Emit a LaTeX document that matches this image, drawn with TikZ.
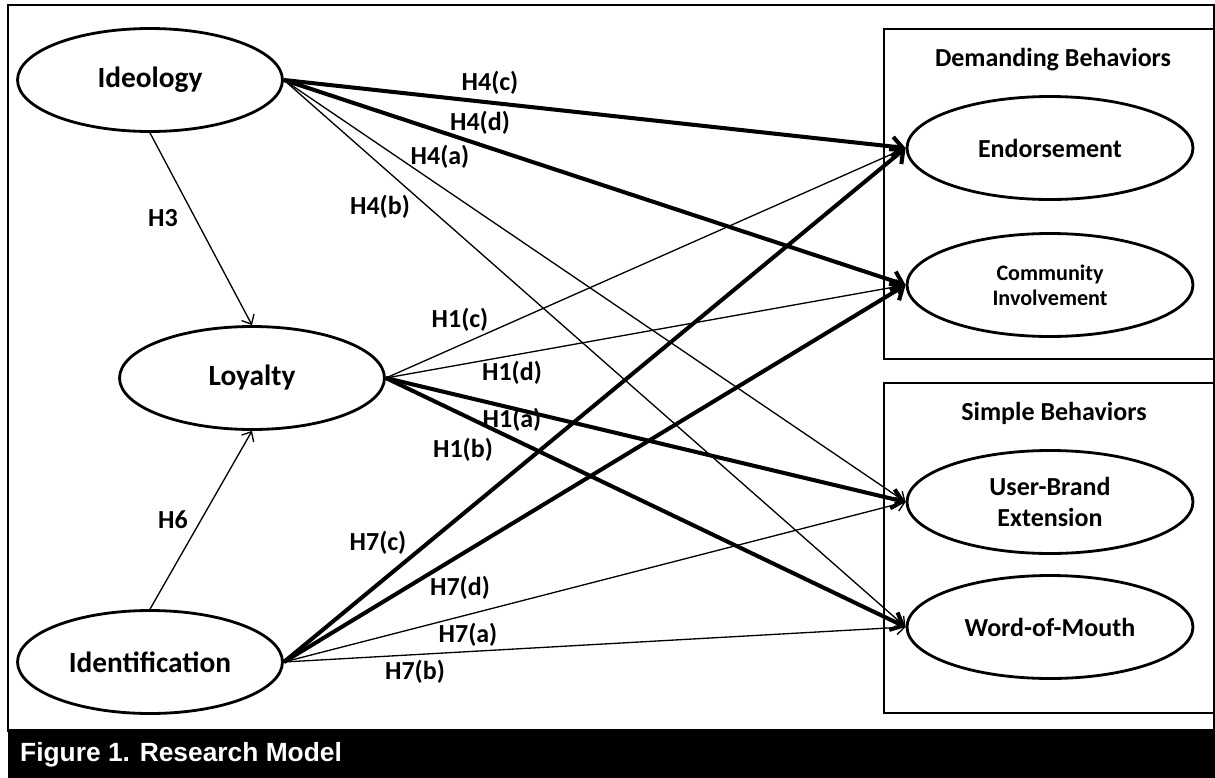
\documentclass[tikz,border=0pt]{standalone}
\usepackage{fontspec}
\setmainfont{Carlito}
\newfontfamily\captionfont{Liberation Sans}
\usetikzlibrary{arrows.meta,shapes.geometric}
\newlength{\leftnodewidth}
\newlength{\rightnodewidth}
\newlength{\constructheight}
\newlength{\thinpath}
\newlength{\thickpath}
\setlength{\leftnodewidth}{5.3cm}
\setlength{\rightnodewidth}{5.72cm}
\setlength{\constructheight}{2.06cm}
\setlength{\thinpath}{0.75pt}
\setlength{\thickpath}{2.3pt}
\tikzstyle{construct} = [draw, ellipse, line width=1.6pt, minimum width=\leftnodewidth, minimum height=\constructheight, inner sep=0, align=center, font=\bfseries\fontsize{16.7}{20}\selectfont]
\tikzstyle{outcome} = [construct, minimum width=\rightnodewidth, font=\bfseries\fontsize{14.8}{17.6}\selectfont]
\tikzstyle{groupbox} = [draw, line width=1.6pt]
\tikzstyle{hyp} = [inner sep=0, font=\bfseries\fontsize{14.8}{17}\selectfont]
\tikzstyle{weak} = [draw, line width=\thinpath, -{Straight Barb[length=4.5pt,width=8pt]}]
\tikzstyle{strong} = [draw, line width=\thickpath, -{Straight Barb[length=6pt,width=11pt]}]

\begin{document}
\begin{tikzpicture}[x=0.02cm, y=-0.02cm]
		
		\useasboundingbox (0,0) rectangle (1215,778);
		
		% frame and caption bar
		\draw[line width=1.7pt] (8,5) rectangle (1214,730);
		\fill[black] (8,730) rectangle (1215,778);
		\node[anchor=west, text=white, font=\captionfont\bfseries\fontsize{15}{18}\selectfont] (caption) at (14,755) {Figure 1. Research Model};
		
		% behaviour groups
		\draw[groupbox] (884,29) rectangle (1214,359);
		\draw[groupbox] (884,383) rectangle (1214,713);
		\node[hyp] (demanding) at (1053,60) {Demanding Behaviors};
		\node[hyp] (simple) at (1054,413) {Simple Behaviors};
		
		% constructs
		\node[construct] (ideo) at (150,80) {Ideology};
		\node[construct] (loy) at (252,378) {Loyalty};
		\node[construct] (ident) at (150,662) {Identification};
		\node[outcome] (endo) at (1050,148) {Endorsement};
		\node[outcome, font=\bfseries\fontsize{12.6}{14.2}\selectfont] (comm) at (1050,285) {Community\\Involvement};
		\node[outcome] (ube) at (1050,502) {User-Brand\\Extension};
		\node[outcome] (wom) at (1050,627) {Word-of-Mouth};
		
		% paths
		\draw[weak] (ideo.south) -- (loy.north);
		\draw[weak] (ident.north) -- (loy.south);
		
		\draw[strong] (ideo.east) -- (endo.west);
		\draw[strong] (ideo.east) -- (comm.west);
		\draw[weak] (ideo.east) -- (ube.west);
		\draw[weak] (ideo.east) -- (wom.west);
		
		\draw[weak] (loy.east) -- (endo.west);
		\draw[weak] (loy.east) -- (comm.west);
		\draw[strong] (loy.east) -- (ube.west);
		\draw[strong] (loy.east) -- (wom.west);
		
		\draw[strong] (ident.east) -- (endo.west);
		\draw[strong] (ident.east) -- (comm.west);
		\draw[weak] (ident.east) -- (ube.west);
		\draw[weak] (ident.east) -- (wom.west);
		
		% hypothesis labels
		\node[hyp] (h3) at (163,218) {H3};
		\node[hyp] (h6) at (173,520) {H6};
		\node[hyp] (h4c) at (490,83) {H4(c)};
		\node[hyp] (h4d) at (480,123) {H4(d)};
		\node[hyp] (h4a) at (440,157) {H4(a)};
		\node[hyp] (h4b) at (380,207) {H4(b)};
		\node[hyp] (h1c) at (460,320) {H1(c)};
		\node[hyp] (h1d) at (512,373) {H1(d)};
		\node[hyp] (h1a) at (512,420) {H1(a)};
		\node[hyp] (h1b) at (463,450) {H1(b)};
		\node[hyp] (h7c) at (378,543) {H7(c)};
		\node[hyp] (h7d) at (460,588) {H7(d)};
		\node[hyp] (h7a) at (468,635) {H7(a)};
		\node[hyp] (h7b) at (415,672) {H7(b)};
		
	\end{tikzpicture}
\end{document}
